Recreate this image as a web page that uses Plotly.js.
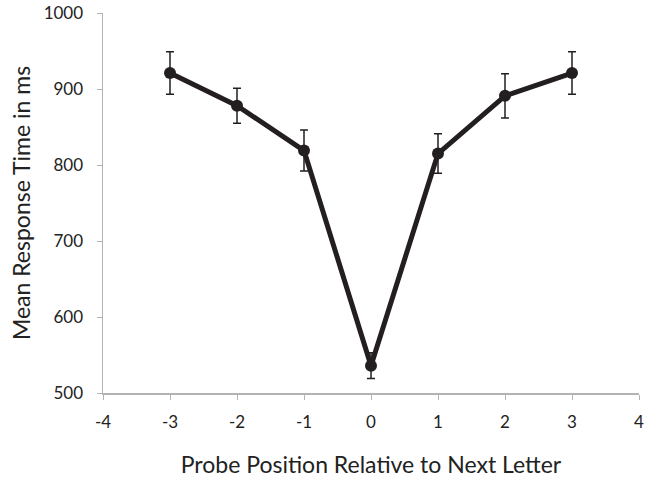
<!DOCTYPE html>
<html>
<head>
<meta charset="utf-8">
<script src="https://cdn.plot.ly/plotly-3.0.1.min.js"></script>
<style>html,body{margin:0;padding:0;background:#fff;}#chart{width:652px;height:478px;}</style>
</head>
<body>
<div id="chart"></div>
<script>
const positions = [-3, -2, -1, 0, 1, 2, 3];
const meanRT = [921, 878, 819, 536, 815, 891, 921];
const errorRT = [28, 23, 27, 17, 26, 29, 28];
const xTicks = [-4, -3, -2, -1, 0, 1, 2, 3, 4];
const yTicks = [500, 600, 700, 800, 900, 1000];

const trace = {
  x: positions,
  y: meanRT,
  type: 'scatter',
  mode: 'lines+markers',
  line: {color: '#231f20', width: 5},
  marker: {color: '#231f20', size: 12, symbol: 'circle'},
  error_y: {type: 'data', array: errorRT, visible: true, color: '#231f20', thickness: 1.5, width: 4},
  cliponaxis: false,
  showlegend: false
};

const layout = {
  width: 652, height: 478,
  margin: {l: 103, r: 13, t: 13, b: 85},
  paper_bgcolor: '#fff', plot_bgcolor: '#fff',
  font: {family: 'Lato, "Open Sans", sans-serif', color: '#222'},
  xaxis: {
    range: [-4, 4], tickvals: xTicks, ticktext: xTicks.map(String),
    showgrid: false, zeroline: false, showline: true, linecolor: '#b3b3b3', linewidth: 1.5,
    ticks: 'outside', ticklen: 5, tickcolor: '#b3b3b3', tickwidth: 1,
    ticklabelstandoff: 8,
    tickfont: {size: 17, color: '#222'},
    title: {text: 'Probe Position Relative to Next Letter', font: {size: 23, color: '#222'}, standoff: 26}
  },
  yaxis: {
    range: [500, 1000], tickvals: yTicks, ticktext: yTicks.map(String),
    showgrid: false, zeroline: false, showline: true, linecolor: '#b3b3b3', linewidth: 1.5,
    ticks: 'outside', ticklen: 5, tickcolor: '#b3b3b3', tickwidth: 1,
    ticklabelstandoff: 10,
    tickfont: {size: 17, color: '#222'},
    title: {text: 'Mean Response Time in ms', font: {size: 23, color: '#222'}, standoff: 6}
  }
};

Plotly.newPlot('chart', [trace], layout, {displayModeBar: false, staticPlot: true});
</script>
</body>
</html>
